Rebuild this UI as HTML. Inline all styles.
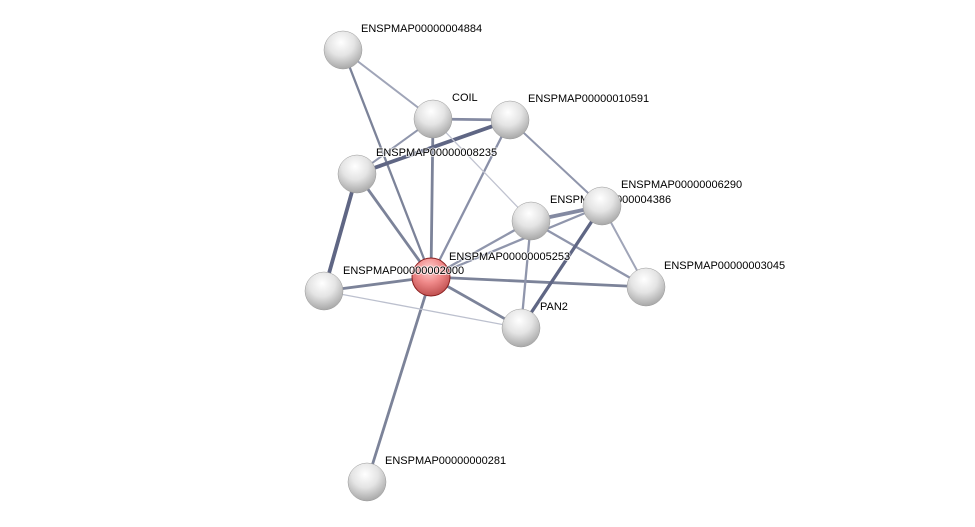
<!DOCTYPE html>
<html><head><meta charset="utf-8"><style>
html,body{margin:0;padding:0;background:#fff;}
svg{display:block;}
text{font-family:"Liberation Sans",sans-serif;font-size:11px;fill:#000;stroke:#fff;stroke-width:2px;stroke-opacity:0.7;paint-order:stroke;}
</style></head><body>
<svg width="975" height="527" viewBox="0 0 975 527" xmlns="http://www.w3.org/2000/svg">
<defs>
<radialGradient id="g" cx="45%" cy="30%" r="70%">
<stop offset="0" stop-color="#ffffff"/><stop offset="0.5" stop-color="#e4e4e4"/><stop offset="1" stop-color="#a8a8a8"/>
</radialGradient>
<radialGradient id="r" cx="45%" cy="30%" r="70%">
<stop offset="0" stop-color="#ffd0d0"/><stop offset="0.5" stop-color="#f08a8a"/><stop offset="1" stop-color="#c05050"/>
</radialGradient>
</defs>
<g stroke-linecap="round">
<line x1="431" y1="277" x2="357" y2="174" stroke="#7c8399" stroke-width="2.8"/>
<line x1="431" y1="277" x2="433" y2="119" stroke="#7c8399" stroke-width="2.8"/>
<line x1="431" y1="277" x2="510" y2="120" stroke="#8a90a8" stroke-width="2.3"/>
<line x1="431" y1="277" x2="343" y2="50" stroke="#7c8399" stroke-width="2.3"/>
<line x1="431" y1="277" x2="324" y2="291" stroke="#7c8399" stroke-width="2.8"/>
<line x1="431" y1="277" x2="521" y2="328" stroke="#7c8399" stroke-width="2.8"/>
<line x1="431" y1="277" x2="646" y2="287" stroke="#7c8399" stroke-width="2.8"/>
<line x1="431" y1="277" x2="367" y2="482" stroke="#7c8399" stroke-width="2.8"/>
<line x1="431" y1="277" x2="531" y2="221" stroke="#9096ac" stroke-width="2.3"/>
<line x1="431" y1="277" x2="602" y2="206" stroke="#9096ac" stroke-width="2.3"/>
<line x1="324" y1="291" x2="357" y2="174" stroke="#5f6684" stroke-width="3.8"/>
<line x1="324" y1="291" x2="521" y2="328" stroke="#bcc0ce" stroke-width="1.3"/>
<line x1="357" y1="174" x2="433" y2="119" stroke="#9096ac" stroke-width="2"/>
<line x1="357" y1="174" x2="510" y2="120" stroke="#5f6684" stroke-width="3.8"/>
<line x1="433" y1="119" x2="510" y2="120" stroke="#848aa2" stroke-width="2.8"/>
<line x1="343" y1="50" x2="433" y2="119" stroke="#a0a5b8" stroke-width="2"/>
<line x1="433" y1="119" x2="531" y2="221" stroke="#c0c3d0" stroke-width="1.3"/>
<line x1="510" y1="120" x2="602" y2="206" stroke="#9096ac" stroke-width="2"/>
<line x1="531" y1="221" x2="602" y2="206" stroke="#848aa2" stroke-width="3.8"/>
<line x1="531" y1="221" x2="521" y2="328" stroke="#9096ac" stroke-width="2.3"/>
<line x1="531" y1="221" x2="646" y2="287" stroke="#9096ac" stroke-width="2.3"/>
<line x1="602" y1="206" x2="646" y2="287" stroke="#a0a5b8" stroke-width="2"/>
<line x1="602" y1="206" x2="521" y2="328" stroke="#5f6684" stroke-width="3.3"/>
</g>
<g>
<circle cx="343" cy="50" r="19" fill="url(#g)" stroke="#999" stroke-width="0.5"/>
<circle cx="433" cy="119" r="19" fill="url(#g)" stroke="#999" stroke-width="0.5"/>
<circle cx="510" cy="120" r="19" fill="url(#g)" stroke="#999" stroke-width="0.5"/>
<circle cx="357" cy="174" r="19" fill="url(#g)" stroke="#999" stroke-width="0.5"/>
<circle cx="531" cy="221" r="19" fill="url(#g)" stroke="#999" stroke-width="0.5"/>
<circle cx="324" cy="291" r="19" fill="url(#g)" stroke="#999" stroke-width="0.5"/>
<circle cx="646" cy="287" r="19" fill="url(#g)" stroke="#999" stroke-width="0.5"/>
<circle cx="521" cy="328" r="19" fill="url(#g)" stroke="#999" stroke-width="0.5"/>
<circle cx="367" cy="482" r="19" fill="url(#g)" stroke="#999" stroke-width="0.5"/>
<circle cx="431" cy="277" r="19" fill="url(#r)" stroke="#8a2020" stroke-width="1"/>
</g>
<text x="361" y="32">ENSPMAP00000004884</text>
<text x="452" y="101">COIL</text>
<text x="528" y="102">ENSPMAP00000010591</text>
<text x="376" y="156">ENSPMAP00000008235</text>
<text x="550" y="203">ENSPMAP00000004386</text>
<circle cx="602" cy="206" r="19" fill="url(#g)" stroke="#999" stroke-width="0.5"/>
<text x="621" y="188">ENSPMAP00000006290</text>
<text x="449" y="260">ENSPMAP00000005253</text>
<text x="343" y="274">ENSPMAP00000002000</text>
<text x="664" y="269">ENSPMAP00000003045</text>
<text x="540" y="310">PAN2</text>
<text x="385" y="464">ENSPMAP00000000281</text>
</svg>
</body></html>
